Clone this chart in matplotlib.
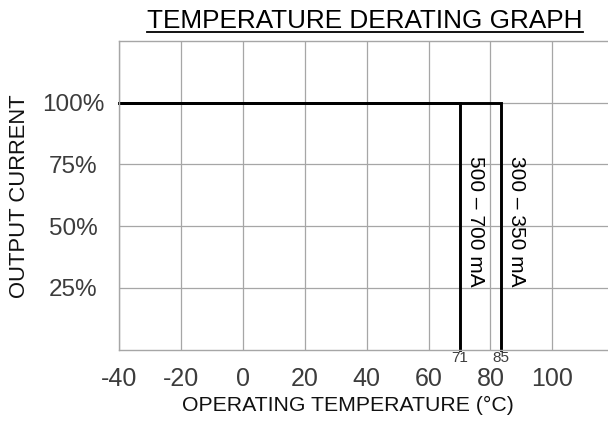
import matplotlib.pyplot as plt
from matplotlib.lines import Line2D

plt.rcParams['font.family'] = ['Liberation Sans', 'DejaVu Sans']

# Derating data (cutoff positions as drawn, labels as printed)
temp_start = -40
cutoff_temps = [70, 83.5]
cutoff_labels = ['71', '85']
current_ranges = ['500 \u2013 700 mA', '300 \u2013 350 mA']
full_current = 100

x_ticks = [-40, -20, 0, 20, 40, 60, 80, 100]
y_ticks = [25, 50, 75, 100]
y_tick_labels = ['25%', '50%', '75%', '100%']

grid_color = '#a6a6a6'
tick_color = '#3c3c3c'

fig = plt.figure(figsize=(6.08, 4.28), dpi=100)
ax = fig.add_axes([0.1962, 0.1832, 0.8038, 0.721])

ax.set_xlim(-40, 118)
ax.set_ylim(0, 125)

# grid
ax.set_xticks(x_ticks)
ax.set_xticklabels([str(t) for t in x_ticks])  # plain hyphen minus like the original
ax.set_yticks(y_ticks)
ax.set_yticklabels(y_tick_labels)
ax.grid(True, color=grid_color, lw=0.9)
ax.set_axisbelow(True)
ax.tick_params(length=0)
ax.tick_params(axis='x', labelsize=18, labelcolor=tick_color, pad=12.5)
ax.tick_params(axis='y', labelsize=17.5, labelcolor=tick_color, pad=33)
for lab in ax.get_yticklabels():
    lab.set_ha('center')

for side in ['left', 'top', 'bottom']:
    ax.spines[side].set_color(grid_color)
    ax.spines[side].set_linewidth(1.0)
ax.spines['right'].set_visible(False)

# derating curves
for t, lab, rng in zip(cutoff_temps, cutoff_labels, current_ranges):
    ax.plot([temp_start, t, t], [full_current, full_current, 0],
            color='black', lw=2.1, solid_joinstyle='miter', clip_on=False)
    ax.annotate(rng, xy=(t, 78.6), xytext=(11.2, 0), textcoords='offset points',
                rotation=-90, ha='center', va='top', fontsize=15, color='black')
    ax.annotate(lab, xy=(t, 0), xytext=(0, -1.2), textcoords='offset points',
                ha='center', va='top', fontsize=11, color=tick_color)

ax.set_xlabel('OPERATING TEMPERATURE (\u00b0C)', fontsize=15.3, color='#111111', va='center')
ax.xaxis.set_label_coords(0.468, -0.18)
ax.set_ylabel('OUTPUT CURRENT', fontsize=15.8, color='#111111', va='center')
ax.yaxis.set_label_coords(-0.205, 0.498)

# underlined title
title = fig.text(0.6003, 1 - 28.3 / 428, 'TEMPERATURE DERATING GRAPH',
                 ha='center', va='baseline', fontsize=18.8, color='black')
fig.canvas.draw()
bb = title.get_window_extent().transformed(fig.transFigure.inverted())
uy = 1 - 31.8 / 428
fig.add_artist(Line2D([bb.x0, bb.x1], [uy, uy], transform=fig.transFigure,
                      color='black', lw=1.3))

fig.savefig('out.png', dpi=100)
